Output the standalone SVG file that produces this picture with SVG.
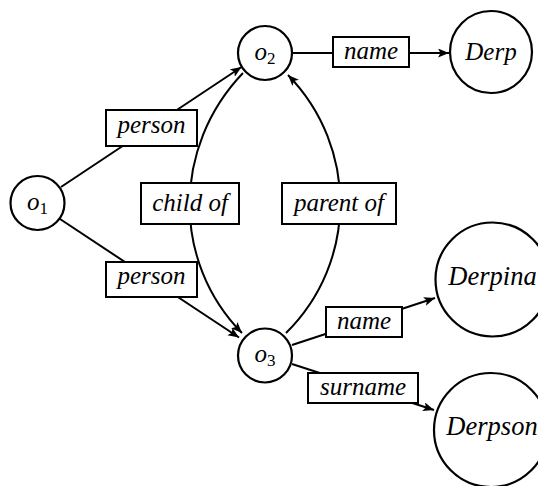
<svg xmlns="http://www.w3.org/2000/svg" width="538" height="486" viewBox="0 0 538 486">
  <defs>
    <marker id="arrow" markerUnits="userSpaceOnUse" markerWidth="13" markerHeight="10" refX="11" refY="4.5" orient="auto">
      <path d="M0,0 L11,4.5 L0,9 L2.5,4.5 Z" fill="#000"/>
    </marker>
    <style>
      .node circle { fill: #fff; stroke: #000; stroke-width: 2.2; }
      .lbl rect { fill: #fff; stroke: #000; stroke-width: 2; }
      text { font-family: 'Liberation Serif', serif; font-style: italic; font-size: 25px; fill: #000; text-anchor: middle; }
      .big { font-size: 26.5px; }
      .sub { font-style: normal; font-size: 17px; }
      .edge { fill: none; stroke: #000; stroke-width: 2; }
    </style>
  </defs>
  <rect width="538" height="486" fill="#fff"/>

  <!-- connectors -->
  <g id="connectors">
    <line class="edge" x1="61" y1="187" x2="241.5" y2="67" marker-end="url(#arrow)"/>
    <line class="edge" x1="60" y1="219" x2="239" y2="337.5" marker-end="url(#arrow)"/>
    <path class="edge" d="M243,73 C172,147 172,262 242,333" marker-end="url(#arrow)"/>
    <path class="edge" d="M286,333 C358,262 358,147 288,75" marker-end="url(#arrow)"/>
    <line class="edge" x1="292" y1="53" x2="449" y2="53" marker-end="url(#arrow)"/>
    <line class="edge" x1="292" y1="345" x2="435" y2="298" marker-end="url(#arrow)"/>
    <line class="edge" x1="292" y1="364" x2="434" y2="410" marker-end="url(#arrow)"/>

    <g class="lbl" id="lbl-person-top"><rect x="106" y="110" width="91" height="36"/><text x="151.5" y="133">person</text></g>
    <g class="lbl" id="lbl-person-bottom"><rect x="106" y="262" width="91" height="35"/><text x="151.5" y="284">person</text></g>
    <g class="lbl" id="lbl-child"><rect x="141" y="183" width="98" height="41"/><text x="190" y="211">child of</text></g>
    <g class="lbl" id="lbl-parent"><rect x="282" y="183" width="114" height="41"/><text x="339" y="211">parent of</text></g>
    <g class="lbl" id="lbl-name-top"><rect x="333" y="37" width="76" height="30"/><text x="371" y="59">name</text></g>
    <g class="lbl" id="lbl-name-bottom"><rect x="326" y="307" width="76" height="30"/><text x="364" y="329">name</text></g>
    <g class="lbl" id="lbl-surname"><rect x="308" y="373" width="110" height="30"/><text x="363" y="395">surname</text></g>
  </g>

  <!-- nodes -->
  <g class="node" id="o1"><circle cx="37.5" cy="203" r="27"/><text x="37.5" y="210">o<tspan class="sub" dy="4">1</tspan></text></g>
  <g class="node" id="o2"><circle cx="265" cy="53" r="27"/><text x="265" y="60">o<tspan class="sub" dy="4">2</tspan></text></g>
  <g class="node" id="o3"><circle cx="265" cy="355.5" r="27"/><text x="265" y="362">o<tspan class="sub" dy="4">3</tspan></text></g>
  <g class="node" id="derp"><circle cx="491" cy="52" r="41"/><text x="491" y="60">Derp</text></g>
  <g class="node" id="derpina"><circle cx="492.5" cy="279.5" r="57"/><text class="big" x="492.5" y="285">Derpina</text></g>
  <g class="node" id="derpson"><circle cx="491" cy="430" r="57"/><text class="big" x="492" y="435">Derpson</text></g>
</svg>
